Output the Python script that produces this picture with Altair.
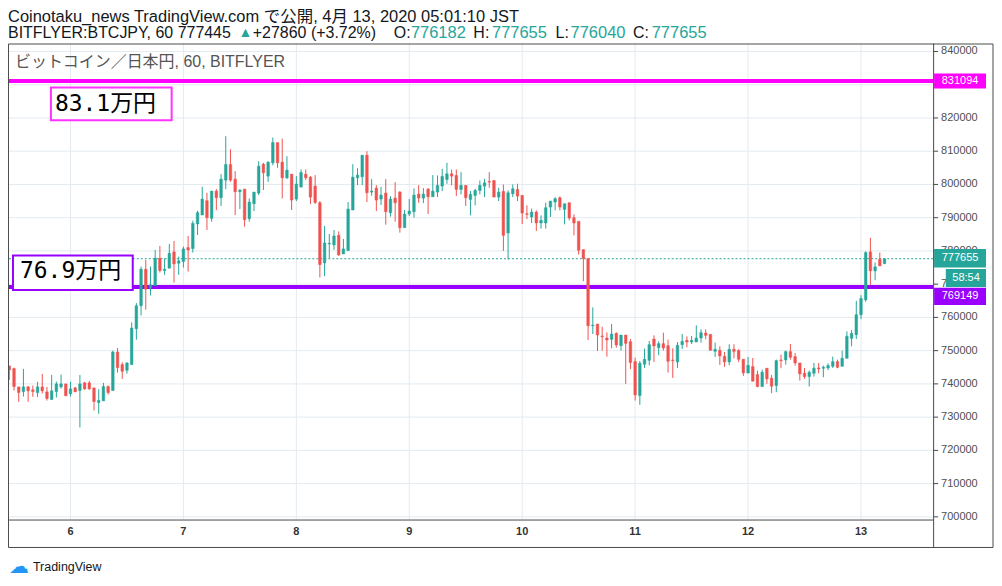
import altair as alt
import pandas as pd

FONT = "Liberation Sans, Noto Sans CJK JP, sans-serif"
UP = "#26a69a"
DOWN = "#ef5350"
MAGENTA = "#ff00ff"
PURPLE = "#9900ff"
TEXT = "#131722"

# hourly candles, BITFLYER BTC/JPY, from 2020-04-05 11:00 to 2020-04-13 05:00
opens = [745400, 744600, 739100, 737700, 739100, 738200, 737400, 739100, 737600, 735300,
         737700, 739100, 740000, 737000, 738800, 738000, 740300, 740300, 738800, 734400,
         734900, 739200, 738000, 749600, 745800, 744100, 745800, 756600, 763500, 774500,
         768800, 769500, 777800, 774100, 774800, 779700, 776300, 776800, 781000, 780700,
         788100, 790800, 795100, 789800, 798000, 796000, 801300, 806000, 801600, 797800,
         798600, 789700, 794200, 797400, 806100, 802500, 806500, 812600, 806700, 802000,
         803100, 795600, 799200, 803100, 802200, 799500, 794500, 776400, 782100, 781800,
         784700, 779100, 780100, 792300, 802000, 802300, 808800, 797700, 798900, 795600,
         797400, 791500, 795900, 797700, 787000, 791100, 791800, 797100, 795900, 798600,
         796300, 797700, 799500, 801500, 803200, 802700, 798500, 799700, 795500, 796700,
         798200, 799500, 800900, 801200, 796200, 797900, 785400, 797200, 798500, 796700,
         791200, 790200, 791700, 788400, 788400, 793200, 794700, 796000, 792500, 794500,
         790000, 788900, 780400, 777700, 757500, 758000, 754400, 753800, 753400, 755200,
         751500, 754700, 752700, 746700, 736500, 745900, 747100, 753500, 750900, 752100,
         751500, 747200, 746600, 751800, 753100, 752600, 752600, 753800, 755300, 754900,
         749800, 750100, 748300, 746600, 750400, 750100, 747400, 743300, 745200, 742800,
         739200, 744700, 741700, 739500, 747200, 747200, 749700, 748200, 746300, 743200,
         742200, 743200, 744800, 744700, 744800, 745300, 746700, 745300, 747700, 753700,
         754800, 760800, 765300, 779700, 774000, 777500, 776182]
highs = [745400, 744900, 739100, 744500, 739400, 739500, 740600, 743000, 739100, 742700,
         740700, 742800, 740000, 740600, 739100, 742700, 740600, 740900, 738800, 738400,
         740300, 739500, 750000, 750800, 746500, 746500, 758500, 764300, 775300, 777300,
         775300, 780300, 781500, 777800, 782100, 783000, 778300, 781300, 784500, 789100,
         792100, 799300, 797500, 798000, 798600, 803100, 814500, 810600, 804000, 798600,
         798600, 795800, 797700, 807000, 806500, 807000, 814100, 812600, 813800, 808500,
         803100, 802500, 804500, 804500, 802500, 802800, 795000, 787500, 785100, 786300,
         785900, 783600, 794700, 806100, 804900, 808800, 810000, 801600, 799800, 799300,
         801600, 796500, 800700, 798000, 792300, 795600, 798800, 799800, 798900, 798900,
         802800, 802700, 804700, 806500, 804500, 804500, 803700, 799700, 798000, 798700,
         801200, 801700, 803700, 801200, 799000, 800000, 798200, 800000, 800200, 796700,
         793700, 792700, 792200, 790700, 794500, 795000, 796200, 796400, 794200, 794500,
         791000, 788900, 780400, 777700, 763000, 758000, 757200, 755500, 758000, 755500,
         754700, 754700, 753500, 747900, 746900, 750600, 752900, 754600, 752800, 755400,
         753300, 750700, 752600, 755000, 754300, 754400, 757600, 756400, 756400, 754900,
         752400, 751300, 749600, 751900, 751900, 750400, 747400, 748100, 747800, 744000,
         744300, 744700, 742700, 747300, 748800, 750000, 752000, 749300, 746300, 744800,
         744000, 746300, 746300, 745500, 746200, 748200, 747300, 750000, 755800, 756200,
         765000, 766700, 779900, 783900, 776500, 779500, 777655]
lows = [741200, 738000, 734600, 736200, 734600, 736100, 736100, 737100, 735000, 735300,
        735900, 738600, 736400, 736200, 737600, 726900, 738200, 738200, 732000, 731000,
        734900, 736800, 738000, 743400, 741500, 743100, 745800, 753300, 760600, 762300,
        766600, 769500, 773500, 772800, 774800, 770500, 772800, 775000, 773800, 779500,
        784800, 790800, 786300, 788800, 792300, 793500, 798600, 800800, 790800, 792600,
        787300, 788800, 792000, 796800, 798300, 800800, 805800, 805000, 795800, 801600,
        792300, 795000, 799200, 801300, 794100, 794100, 772000, 772400, 777800, 780300,
        778500, 779100, 780100, 792300, 799800, 799800, 794700, 796600, 792000, 793800,
        787900, 790300, 788800, 785500, 787000, 790500, 790000, 794500, 794400, 791100,
        796300, 796200, 798000, 800200, 799700, 796500, 797000, 793500, 790700, 793700,
        797000, 796200, 799000, 796200, 795000, 780000, 777400, 796200, 795000, 788100,
        789600, 788400, 786000, 786700, 786700, 790200, 792200, 792200, 788000, 789200,
        784700, 778900, 770900, 753200, 755000, 749900, 750000, 748200, 750700, 750900,
        750000, 740000, 744400, 735000, 733700, 744800, 745600, 746600, 748600, 750000,
        743400, 741800, 744800, 750500, 751000, 752000, 752600, 752400, 753400, 750100,
        748100, 745700, 745100, 745600, 747700, 746600, 742400, 743100, 740800, 739000,
        739200, 740000, 737200, 737500, 744700, 745800, 747300, 745500, 741000, 741500,
        739200, 742200, 743200, 742000, 744200, 744800, 744700, 745300, 747700, 751300,
        753500, 759500, 764700, 769700, 771200, 775500, 776040]
closes = [744200, 739200, 737400, 739100, 737900, 737700, 739100, 737900, 735600, 737900,
          740000, 740000, 736400, 738500, 737600, 740000, 738500, 738500, 734700, 735000,
          739200, 737400, 749600, 744900, 743800, 746300, 756800, 763500, 774500, 768500,
          769800, 777800, 774100, 774500, 779300, 776100, 777000, 780600, 780300, 788300,
          791500, 795600, 790000, 798000, 796000, 801600, 806000, 801300, 797800, 798300,
          789400, 794700, 797700, 805500, 803500, 806700, 812600, 806500, 802000, 804300,
          795300, 800100, 803600, 802000, 796200, 794600, 775900, 782400, 782300, 784500,
          778800, 780600, 792600, 802200, 802800, 808800, 797500, 798000, 795300, 796800,
          791800, 795600, 794500, 787000, 791100, 792000, 796800, 795900, 797100, 796300,
          798000, 799700, 802400, 803200, 802500, 798500, 799700, 796000, 797000, 798200,
          799700, 800500, 800700, 796200, 797700, 784700, 797500, 798700, 796500, 791400,
          791000, 791700, 788400, 789200, 793000, 795000, 795700, 793200, 794200, 789900,
          788400, 780200, 777700, 757500, 757700, 754700, 754200, 753200, 755000, 751700,
          754700, 752200, 746400, 736700, 746200, 747400, 751800, 751400, 752100, 750800,
          746800, 747000, 751600, 752800, 752600, 753100, 753800, 755400, 754600, 750100,
          750400, 748400, 746600, 750400, 749800, 747400, 743300, 745600, 740800, 739200,
          743500, 741500, 739300, 747000, 747000, 749700, 748000, 746300, 743000, 742200,
          743500, 744700, 744500, 745000, 745500, 746700, 745000, 747700, 754300, 755200,
          760800, 765700, 779500, 774000, 775200, 775500, 777655]

day_labels = ["6", "7", "8", "9", "10", "11", "12", "13"]
price_ticks = [700000, 710000, 720000, 730000, 740000, 750000, 760000, 770000,
               780000, 790000, 800000, 810000, 820000, 830000, 840000]
level_prices = [831094, 769149]
level_colors = [MAGENTA, PURPLE]
last_price = 777655

start = pd.Timestamp("2020-04-05 11:00")
day0 = pd.Timestamp("2020-04-06 00:00")
times = pd.date_range(start, periods=len(opens), freq="h")
hours = [(t - day0) / pd.Timedelta(hours=1) for t in times]
day_hours = [(int(d) - 6) * 24 for d in day_labels]

df = pd.DataFrame({"h": hours, "open": opens, "high": highs, "low": lows, "close": closes})
df["dir"] = ["up" if c >= o else "down" for o, c in zip(opens, closes)]

W, H = 927, 477
x_scale = alt.Scale(domain=[-13.28, 183.33], nice=False, zero=False, padding=0)
y_scale = alt.Scale(domain=[699190, 842400], nice=False, zero=False, padding=0)
dir_scale = alt.Scale(domain=["up", "down"], range=[UP, DOWN])
GRID = "#e3ebf1"
FRAME = "#4a4a4a"

one = pd.DataFrame({"a": [0]})


def X(field):
    return alt.X(field, scale=x_scale, axis=None)


def Y(field):
    return alt.Y(field, scale=y_scale, axis=None)


# grid, tick labels (drawn as marks)
ygrid_df = pd.DataFrame({"p": price_ticks})
xgrid_df = pd.DataFrame({"h": day_hours, "label": day_labels})

ygrid = alt.Chart(ygrid_df).mark_rule(color=GRID, strokeWidth=1).encode(y=Y("p:Q"))
xgrid = alt.Chart(xgrid_df).mark_rule(color=GRID, strokeWidth=1).encode(x=X("h:Q"))
yticks = alt.Chart(ygrid_df).mark_rule(color=FRAME, strokeWidth=1).encode(
    x=alt.value(927.5), x2=alt.value(932), y=Y("p:Q"))
ylabels = alt.Chart(ygrid_df).mark_text(
    align="left", baseline="middle", fontSize=11, font=FONT, color="#4f4f4f").encode(
    x=alt.value(935), y=Y("p:Q"), text=alt.Text("p:Q", format="d"))
xlabels = alt.Chart(xgrid_df).mark_text(
    align="center", baseline="top", fontSize=11, font=FONT, fontWeight="bold",
    color="#333333").encode(x=X("h:Q"), y=alt.value(483), text="label:N")

wicks = alt.Chart(df).mark_rule(strokeWidth=1).encode(
    x=X("h:Q"), y=Y("low:Q"), y2="high:Q",
    color=alt.Color("dir:N", scale=dir_scale, legend=None),
)

bodies = alt.Chart(df).mark_bar(size=2.6, strokeWidth=0.5).encode(
    x=X("h:Q"), y=Y("open:Q"), y2="close:Q",
    color=alt.Color("dir:N", scale=dir_scale, legend=None),
    stroke=alt.Stroke("dir:N", scale=dir_scale, legend=None),
)

last_df = pd.DataFrame({"price": [last_price]})
last_line = alt.Chart(last_df).mark_rule(strokeWidth=1, strokeDash=[2, 2], color=UP).encode(
    y=Y("price:Q"))

levels_df = pd.DataFrame({"price": level_prices, "col": level_colors})
level_lines = alt.Chart(levels_df).mark_rule(strokeWidth=4).encode(
    y=Y("price:Q"), color=alt.Color("col:N", scale=None))

# annotation boxes ("83.1万円", "76.9万円")
box_df = pd.DataFrame({
    "h1": [-4.16, -12.22], "h2": [21.5, 13.23],
    "p1": [829193, 778607], "p2": [819286, 768250],
    "col": ["#ff33ff", PURPLE],
})
boxes = alt.Chart(box_df).mark_rect(fill="white", strokeWidth=2).encode(
    x=X("h1:Q"), x2="h2:Q", y=Y("p1:Q"), y2="p2:Q",
    stroke=alt.Stroke("col:N", scale=None))

box_text_df = pd.DataFrame({"h": [-3.31, -10.73], "p": [824090, 773955],
                            "label": ["83.1万円", "76.9万円"]})
box_texts = alt.Chart(box_text_df).mark_text(
    align="left", baseline="middle", fontSize=23,
    font="DejaVu Sans Mono, Noto Sans CJK JP", color="black").encode(
    x=X("h:Q"), y=Y("p:Q"), text="label:N")

# right-axis price tags
tag_df = pd.DataFrame({
    "label": ["831094", "777655", "769149"],
    "top": [833395, 780558, 768940], "bottom": [828892, 775004, 763747],
    "col": [MAGENTA, UP, PURPLE],
})
tag_df["mid"] = (tag_df["top"] + tag_df["bottom"]) / 2
tags = alt.Chart(tag_df).mark_rect().encode(
    x=alt.value(928), x2=alt.value(980), y=Y("top:Q"), y2="bottom:Q",
    color=alt.Color("col:N", scale=None))
tag_texts = alt.Chart(tag_df).mark_text(
    align="center", baseline="middle", fontSize=11, font=FONT, color="white").encode(
    x=alt.value(954), y=Y("mid:Q"), text="label:N")

timer_df = pd.DataFrame({"label": ["58:54"], "top": [774553], "bottom": [769150]})
timer_df["mid"] = (timer_df["top"] + timer_df["bottom"]) / 2
timer = alt.Chart(timer_df).mark_rect(color=UP).encode(
    x=alt.value(939.7), x2=alt.value(980), y=Y("top:Q"), y2="bottom:Q")
timer_text = alt.Chart(timer_df).mark_text(
    align="center", baseline="middle", fontSize=11, font=FONT, color="white").encode(
    x=alt.value(960), y=Y("mid:Q"), text="label:N")


def label(text, x, y, color=TEXT, size=16.5, align="left", baseline="alphabetic",
          font=FONT, weight="normal"):
    return alt.Chart(one).mark_text(
        text=text, align=align, baseline=baseline, fontSize=size, font=font,
        color=color, fontWeight=weight).encode(x=alt.value(x), y=alt.value(y))


header = [
    label("Coinotaku_news TradingView.com で公開, 4月 13, 2020 05:01:10 JST", 0, -21.4),
    label("BITFLYER:BTCJPY, 60 777445", 0, -5.7, size=16),
    label("▲", 231, -6.2, color=UP, size=14),
    label("+27860 (+3.72%)", 245.3, -5.7, size=16),
    label("O:", 386.5, -5.7, size=16),
    label("776182", 403.7, -5.7, color=UP),
    label("H:", 466.3, -5.7, size=16),
    label("777655", 485, -5.7, color=UP),
    label("L:", 548.7, -5.7, size=16),
    label("776040", 563.7, -5.7, color=UP),
    label("C:", 626.3, -5.7, size=16),
    label("777655", 645, -5.7, color=UP),
    label("ビットコイン／日本円, 60, BITFLYER", 7, 19, color="#555555", size=16,
          baseline="middle"),
    label("☁", 11, 525, color="#2196f3", size=20, align="center", baseline="middle",
          font="DejaVu Sans"),
    label("TradingView", 25, 525, size=12.5, baseline="middle"),
]

frame = alt.Chart(one).mark_rect(fillOpacity=0, stroke=FRAME, strokeWidth=1).encode(
    x=alt.value(0.5), x2=alt.value(987), y=alt.value(0.5), y2=alt.value(505))
right_sep = alt.Chart(one).mark_rule(color=FRAME, strokeWidth=1).encode(
    x=alt.value(927.5), y=alt.value(0), y2=alt.value(505))
bottom_sep = alt.Chart(one).mark_rule(color=FRAME, strokeWidth=1).encode(
    x=alt.value(0), x2=alt.value(927.5), y=alt.value(477.5))

chart = alt.layer(
    ygrid, xgrid, yticks, ylabels, xlabels,
    last_line, level_lines, wicks, bodies, boxes, box_texts,
    tags, tag_texts, timer, timer_text, frame, right_sep, bottom_sep, *header
).properties(
    width=W, height=H,
    padding={"left": 0, "top": 35, "right": 61, "bottom": 58},
    autosize=alt.AutoSizeParams(type="none"),
    background="white",
).configure_view(strokeWidth=0)

chart.save("out.html", embed_options={"renderer": "svg", "actions": False})
